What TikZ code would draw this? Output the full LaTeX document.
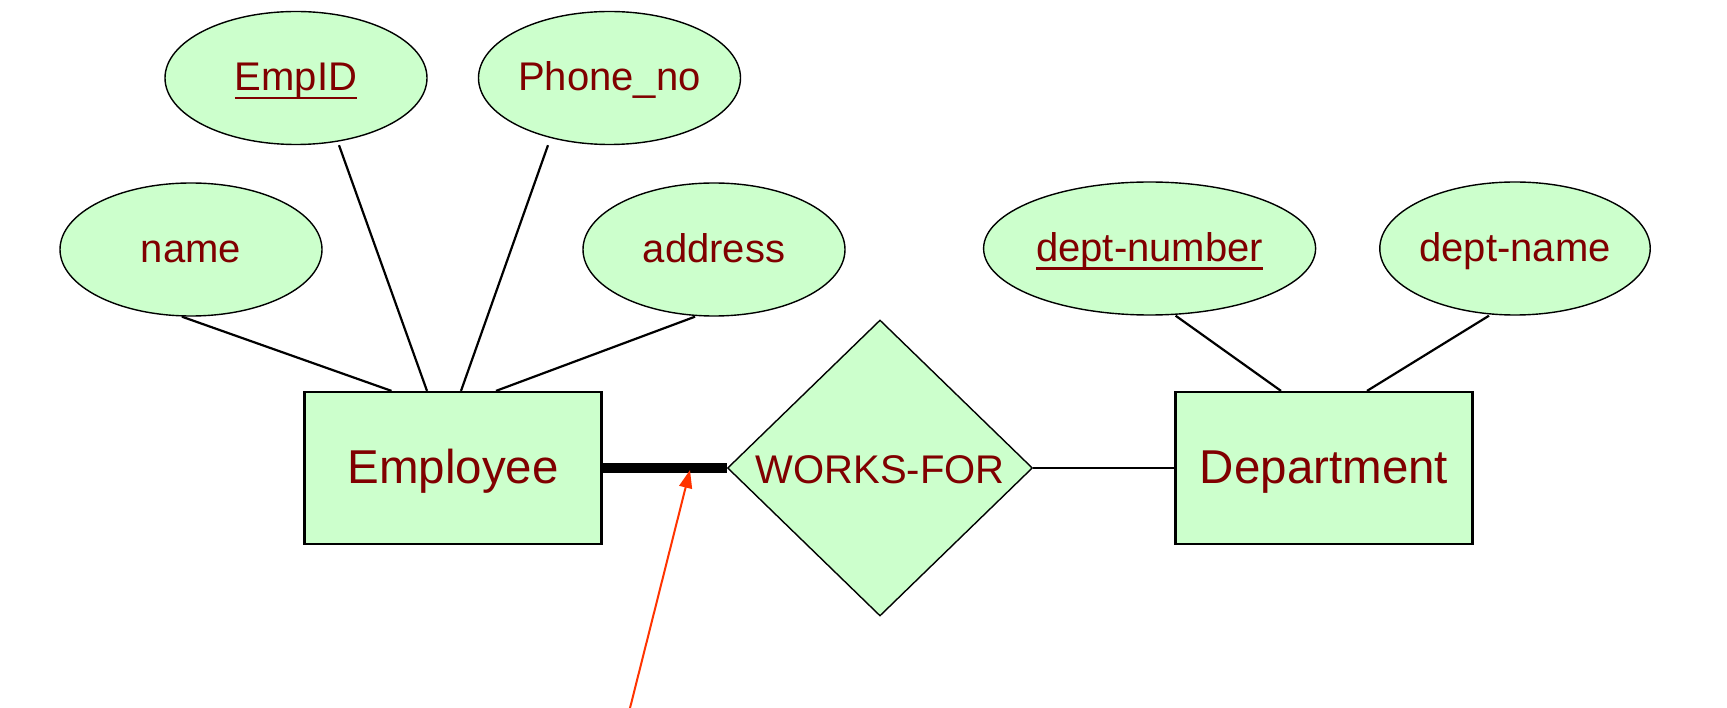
\documentclass[tikz,border=0pt]{standalone}
\usepackage{fontspec}
\setmainfont{Liberation Sans}
\usetikzlibrary{shapes.geometric,arrows.meta,calc}
\definecolor{erfill}{HTML}{CCFFCC}
\definecolor{ertext}{HTML}{800000}
\definecolor{arrowred}{HTML}{FF3300}
\newcommand\keyul[1]{\setbox0\hbox{#1}\rlap{\rule[-8.4pt]{\wd0}{2.8pt}}\box0}
\begin{document}
\begin{tikzpicture}[x=1pt,y=-1pt,
  attr/.style={ellipse, draw, line width=1.4pt, fill=erfill, text=ertext,
    inner sep=0pt, font=\fontsize{40}{48}\selectfont,
    text height=26pt, text depth=0pt, minimum height=133pt, minimum width=262pt},
  entity/.style={rectangle, draw, line width=2.2pt, fill=erfill, text=ertext,
    inner sep=0pt, font=\fontsize{47.5}{56}\selectfont,
    text height=31pt, text depth=0pt, minimum width=297pt, minimum height=152pt},
  relship/.style={diamond, draw, line width=1.4pt, fill=erfill, text=ertext,
    inner sep=0pt, font=\fontsize{40}{48}\selectfont,
    text height=30pt, text depth=0pt, minimum width=305pt, minimum height=296pt},
  link/.style={line width=2.2pt},
  totallink/.style={line width=10.5pt},
  pointer/.style={arrowred, line width=2pt, -{Triangle[length=18pt,width=13pt]}}
]
\useasboundingbox (0,0) rectangle (1727,708);
\fill[white] (0,0) rectangle (1727,708);

% attributes
\node[attr] (empid) at (296,78) {\keyul{EmpID}};
\node[attr] (phone) at (609.5,78) {Phone\_no};
\node[attr] (name) at (191,249.5) {name};
\node[attr] (addr) at (714,249.5) {address};
\node[attr, minimum width=332pt] (dnum) at (1149.6,248.5) {\keyul{dept-number}};
\node[attr, minimum width=262pt] (dname) at (1515,248.5) {dept-name};

% entities and relationship
\node[entity] (emp) at (453,468) {Employee};
\node[entity] (dept) at (1324,468) {Department};
\node[relship] (rel) at (880,468) {WORKS-FOR};

% attribute links
\draw[link] ($(name.south)+(-9,0)$) -- ($(emp.north)+(-61.5,0)$);
\draw[link] ($(empid.south)+(43,0)$) -- ($(emp.north)+(-26,0)$);
\draw[link] ($(phone.south)+(-61.5,0)$) -- ($(emp.north)+(8,0)$);
\draw[link] ($(addr.south)+(-19,0)$) -- ($(emp.north)+(43,0)$);
\draw[link] ($(dnum.south)+(26,0)$) -- ($(dept.north)+(-43,0)$);
\draw[link] ($(dname.south)+(-26,0)$) -- ($(dept.north)+(43,0)$);

% relationship links
\draw[totallink] (emp.east) -- (rel.west);
\draw[link] (rel.east) -- (dept.west);

% pointer arrow
\coordinate (tail) at (628,716);
\coordinate (tip) at (690,470);
\draw[pointer] (tail) -- (tip);
\end{tikzpicture}
\end{document}
